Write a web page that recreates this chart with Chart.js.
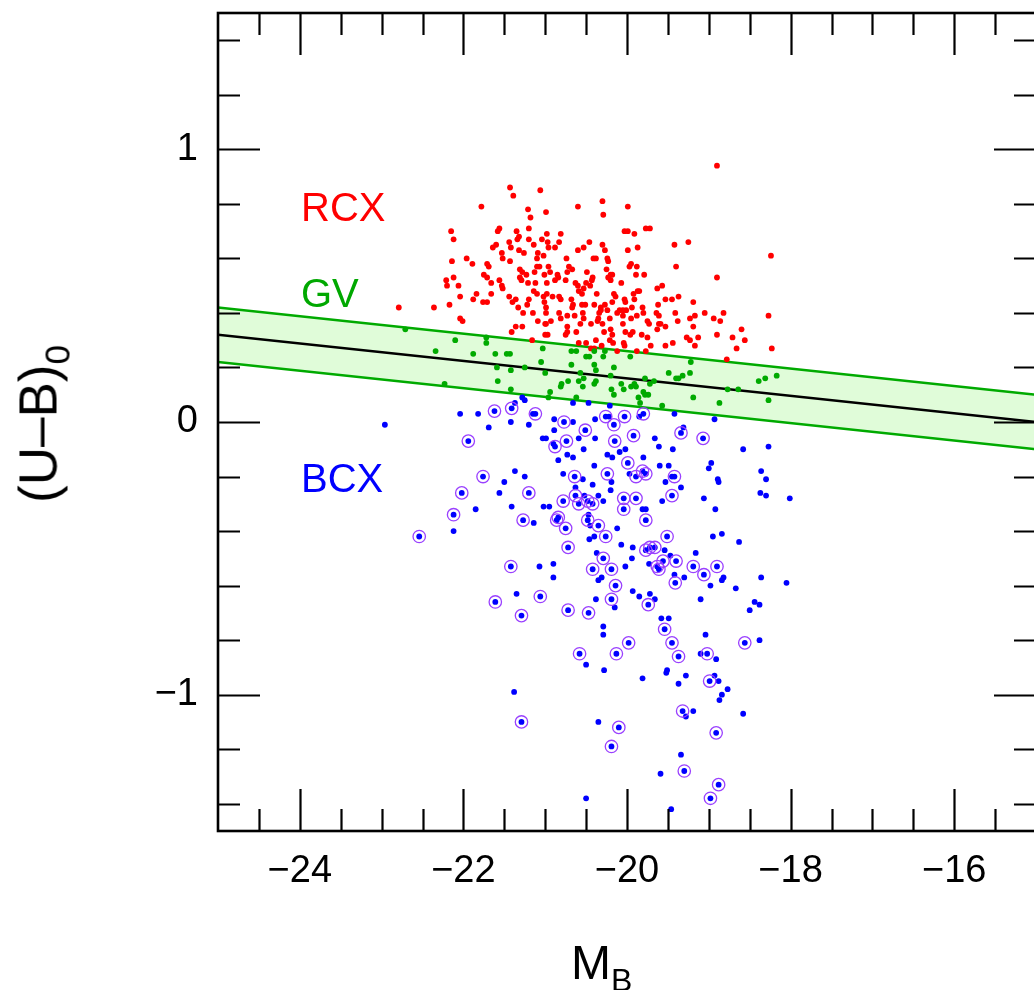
<!DOCTYPE html>
<html><head><meta charset="utf-8">
<script src="https://cdn.jsdelivr.net/npm/chart.js@4.4.1/dist/chart.umd.min.js"></script>
<style>
html,body{margin:0;padding:0;background:#fff;overflow:hidden;width:1034px;height:990px;}
#wrap{position:relative;width:1040px;height:990px;}
canvas{position:absolute;left:0;top:0;}
.lbl{position:absolute;font-family:"Liberation Sans",Arial,Helvetica,sans-serif;white-space:nowrap;line-height:1;}
</style></head><body>
<div id="wrap">
<canvas id="c" width="1040" height="990"></canvas>
<div class="lbl" style="left:301px;top:187px;font-size:40px;color:#ff0000;">RCX</div>
<div class="lbl" style="left:301px;top:273px;font-size:40px;color:#00a800;">GV</div>
<div class="lbl" style="left:301px;top:458px;font-size:40px;color:#0000ff;">BCX</div>
<div class="lbl" style="left:571px;top:939px;font-size:48px;color:#000;">M<span style="font-size:32px;position:relative;top:12px;">B</span></div>
<div class="lbl" style="left:38px;top:424px;font-size:53px;color:#000;transform:translate(-50%,-50%) rotate(-90deg);">(U–B)<span style="font-size:35px;position:relative;top:13px;">0</span></div>
</div>
<script>
// ---- axis ticks ----
const xTicks = [-24, -22, -20, -18, -16];
const xMinor = [-24.5, -23.5, -23, -22.5, -21.5, -21, -20.5, -19.5, -19, -18.5, -17.5, -17, -16.5, -15.5];
const yTicks = [-1, 0, 1];
const yMinor = [-1.4, -1.2, -0.8, -0.6, -0.4, -0.2, 0.2, 0.4, 0.6, 0.8, 1.2, 1.4];

// ---- green valley band ----
const bandX = [-25, -15];
const bandMid = [0.32, 0.00];
const bandHi = [0.42, 0.10];
const bandLo = [0.22, -0.10];

// ---- RCX (red) ----
const redX = [-21.43,-21.06,-21.39,-21.78,-20.60,-20.30,-19.99,-21.21,-20.99,-20.29,
-21.18,-22.15,-22.12,-21.56,-21.58,-21.35,-21.20,-20.98,-20.81,-20.03,
-19.99,-19.91,-19.77,-19.72,-21.32,-21.34,-21.04,-21.44,-21.20,-20.97,
-20.83,-20.46,-20.30,-20.27,-19.42,-19.25,-21.60,-21.64,-21.42,-21.14,
-20.96,-20.88,-20.60,-20.53,-19.99,-19.87,-21.53,-21.32,-21.26,-21.09,
-21.02,-20.74,-20.41,-20.38,-20.24,-20.23,-22.14,-21.96,-21.89,-21.71,
-21.69,-21.52,-21.43,-21.10,-19.95,-19.97,-19.88,-19.40,-21.31,-21.28,
-21.10,-21.07,-20.96,-20.71,-20.67,-20.49,-20.25,-19.89,-19.79,-20.20,
-20.23,-21.75,-21.71,-21.56,-21.31,-21.23,-21.13,-21.01,-20.94,-20.85,
-20.73,-20.75,-20.42,-20.43,-20.18,-22.21,-22.12,-22.20,-22.06,-21.66,
-21.53,-21.52,-21.29,-21.21,-21.12,-20.98,-20.88,-20.84,-20.63,-20.60,
-20.50,-20.45,-20.20,-20.07,-19.87,-19.85,-19.63,-19.57,-18.90,-22.04,
-21.88,-21.84,-21.66,-21.44,-21.36,-21.14,-21.10,-21.02,-20.98,-20.91,
-20.83,-20.81,-20.59,-20.55,-20.53,-20.37,-20.16,-20.14,-20.03,-20.02,
-19.92,-19.91,-22.17,-21.76,-21.71,-21.40,-21.20,-21.22,-21.01,-20.99,
-20.68,-20.66,-20.67,-20.55,-20.51,-20.40,-20.32,-20.27,-20.18,-20.32,
-20.34,-20.24,-20.09,-20.05,-20.01,-19.94,-19.81,-19.62,-19.53,-19.45,
-19.37,-19.19,-21.33,-21.27,-21.15,-20.99,-20.83,-20.81,-20.73,-20.64,
-20.54,-20.53,-20.35,-20.21,-20.12,-20.05,-19.95,-19.88,-19.80,-19.64,
-19.61,-19.41,-19.23,-19.17,-19.05,-18.94,-18.86,-18.82,-22.04,-22.01,
-21.09,-21.00,-20.93,-20.99,-20.73,-20.57,-20.44,-20.36,-20.30,-20.05,
-19.75,-19.73,-19.61,-19.59,-19.53,-19.38,-19.19,-21.36,-21.28,-21.41,
-21.00,-20.97,-20.75,-20.73,-20.62,-20.28,-20.20,-20.18,-19.96,-19.93,
-20.02,-19.82,-19.75,-19.63,-19.27,-19.23,-19.13,-18.90,-18.71,-18.66,
-21.16,-20.59,-20.50,-20.38,-20.31,-20.21,-20.17,-20.12,-20.04,-20.03,
-19.88,-19.77,-19.71,-19.53,-19.44,-19.17,-20.44,-20.40,
-22.79,-22.36,-18.24,-18.27,-18.23,-18.78,-18.60,-18.56,-18.90];
const redY = [0.86,0.85,0.83,0.79,0.79,0.81,0.79,0.78,0.77,0.76,
0.75,0.70,0.67,0.71,0.70,0.70,0.71,0.69,0.69,0.70,
0.70,0.69,0.71,0.71,0.68,0.67,0.67,0.66,0.67,0.66,
0.66,0.66,0.65,0.63,0.65,0.66,0.65,0.64,0.64,0.65,
0.64,0.64,0.63,0.64,0.63,0.64,0.62,0.63,0.62,0.62,
0.61,0.60,0.60,0.60,0.60,0.59,0.59,0.60,0.58,0.58,
0.57,0.60,0.59,0.60,0.58,0.57,0.57,0.57,0.56,0.55,
0.57,0.57,0.57,0.57,0.56,0.55,0.56,0.54,0.54,0.54,
0.53,0.54,0.53,0.52,0.53,0.54,0.55,0.54,0.55,0.54,
0.55,0.52,0.53,0.52,0.54,0.52,0.53,0.50,0.50,0.51,
0.50,0.49,0.52,0.51,0.51,0.51,0.52,0.53,0.51,0.50,
0.51,0.50,0.52,0.51,0.48,0.48,0.49,0.50,0.53,0.46,
0.45,0.47,0.47,0.46,0.45,0.48,0.47,0.46,0.47,0.46,
0.46,0.45,0.48,0.47,0.49,0.47,0.47,0.46,0.45,0.44,
0.47,0.45,0.43,0.44,0.44,0.44,0.45,0.43,0.44,0.42,
0.45,0.43,0.42,0.43,0.43,0.43,0.42,0.43,0.44,0.41,
0.40,0.41,0.41,0.41,0.41,0.42,0.42,0.43,0.45,0.45,
0.46,0.44,0.42,0.40,0.40,0.40,0.40,0.38,0.39,0.39,
0.40,0.38,0.38,0.38,0.40,0.39,0.38,0.39,0.40,0.40,
0.39,0.40,0.38,0.39,0.40,0.38,0.37,0.40,0.38,0.37,
0.37,0.36,0.37,0.36,0.35,0.36,0.36,0.37,0.36,0.36,
0.37,0.36,0.36,0.36,0.35,0.37,0.35,0.35,0.35,0.33,
0.32,0.32,0.32,0.33,0.33,0.33,0.34,0.32,0.32,0.33,
0.33,0.32,0.31,0.34,0.31,0.30,0.31,0.32,0.31,0.27,
0.30,0.29,0.29,0.30,0.28,0.30,0.29,0.26,0.29,0.28,
0.26,0.26,0.28,0.28,0.29,0.28,0.27,0.27,
0.42,0.42,0.61,0.39,0.27,0.23,0.34,0.30,0.94];

// ---- GV (green) ----
const greenX = [-21.72,-21.61,-21.47,-21.43,-21.03,-20.68,-20.62,-21.05,-21.59,-21.42,
-21.25,-21.00,-20.68,-20.57,-20.40,-20.38,-20.16,-19.96,-20.29,-20.46,
-20.50,-20.40,-20.27,-21.58,-21.42,-20.94,-20.96,-20.72,-20.59,-20.53,
-20.81,-20.80,-20.54,-20.40,-20.38,-20.20,-20.07,-20.04,-20.19,-20.16,
-19.95,-19.91,-19.89,-19.78,-19.72,-19.67,-19.86,-19.80,-19.78,-19.74,
-19.84,-19.57,-19.49,-19.40,-19.37,-19.32,-19.23,-19.22,-19.19,-18.87,
-18.77,-18.64,-18.39,-18.31,-18.17,-18.27,-20.62,-22.71,-22.34,-22.23,
-22.10,-21.88,-21.72];
const greenY = [0.29,0.25,0.25,0.25,0.27,0.26,0.26,0.22,0.20,0.19,
0.20,0.18,0.21,0.18,0.21,0.19,0.20,0.24,0.24,0.24,
0.24,0.26,0.26,0.15,0.12,0.11,0.09,0.15,0.15,0.16,
0.13,0.14,0.13,0.14,0.15,0.17,0.14,0.12,0.12,0.10,
0.13,0.14,0.13,0.16,0.14,0.15,0.09,0.11,0.10,0.10,
0.07,0.06,0.18,0.16,0.16,0.17,0.18,0.22,0.09,0.07,
0.12,0.12,0.15,0.16,0.17,0.08,0.09,0.34,0.26,0.14,
0.30,0.25,0.31];

// ---- BCX (blue); blueRing = 1 where the point is circled ----
const blueX = [-22.96,-22.04,-21.82,-21.69,-21.62,-21.41,-21.28,-21.25,-21.37,-21.42,
-21.20,-21.15,-21.12,-20.89,-20.77,-20.66,-20.89,-21.03,-20.99,-20.90,
-20.88,-20.74,-20.59,-20.51,-20.39,-20.53,-20.84,-20.73,-20.66,-20.39,
-20.26,-20.22,-20.16,-20.03,-19.85,-19.80,-19.42,-19.66,-19.61,-19.44,
-19.34,-19.31,-19.07,-18.93,-18.58,-18.27,-19.92,-20.15,-20.02,-20.09,
-20.24,-20.18,-19.80,-19.99,-21.94,-21.76,-21.50,-21.37,-21.25,-21.56,
-22.02,-21.85,-22.12,-22.54,-22.12,-21.41,-21.20,-21.27,-21.14,-21.02,
-20.95,-20.78,-20.64,-20.54,-20.42,-20.24,-20.19,-20.20,-20.40,-19.81,
-19.77,-19.89,-19.97,-19.60,-19.49,-19.42,-19.45,-19.53,-19.34,-19.45,
-19.57,-19.06,-18.97,-19.00,-18.89,-18.88,-18.36,-18.30,-18.37,-18.30,
-18.01,-20.78,-20.63,-20.63,-20.59,-20.52,-20.48,-20.42,-20.35,-20.29,
-20.04,-19.89,-20.04,-19.81,-19.77,-19.77,-20.84,-20.86,-20.75,-20.48,
-20.47,-20.45,-20.35,-20.26,-20.12,-20.40,-20.46,-20.72,-20.37,-20.29,
-20.42,-20.19,-20.35,-20.31,-20.14,-20.07,-19.93,-19.94,-20.02,-19.77,
-19.72,-19.66,-19.54,-19.47,-19.56,-19.63,-19.61,-19.40,-19.73,-19.42,
-19.41,-19.30,-19.51,-19.16,-19.19,-19.06,-18.90,-18.95,-18.84,-18.63,
-18.92,-18.36,-18.05,-18.67,-18.98,-18.84,-18.82,-21.42,-21.07,-20.90,-20.90,-20.66,-20.47,-20.21,
-21.61,-21.35,-21.06,-21.29,-20.72,-20.47,-20.38,-20.19,-20.15,-19.93,
-19.85,-19.72,-19.66,-19.74,-19.10,-18.44,-18.38,-18.50,-19.58,-19.49,
-19.54,-19.45,-19.37,-20.29,-20.29,-19.98,-20.58,-20.13,-20.50,-20.28,
-19.81,-19.51,-19.52,-19.28,-19.37,-19.04,-19.10,-19.02,-18.91,-18.93,
-18.99,-18.88,-18.77,-18.84,-18.87,-18.56,-18.38,-18.58,-19.32,-19.19,
-19.28,-21.38,-21.29,-20.35,-20.10,-20.19,-19.34,-19.30,-19.59,-18.91,
-18.88,-18.98,-20.50,-19.46];
const blueY = [-0.01,0.03,0.03,-0.02,0.04,0.05,0.09,0.08,0.07,0.00,
-0.01,0.03,0.03,0.01,0.00,0.00,-0.03,-0.06,-0.06,-0.08,
-0.09,-0.07,-0.06,-0.03,-0.06,-0.10,-0.14,-0.12,-0.13,0.01,
0.02,0.02,-0.01,0.02,0.02,0.03,0.03,-0.06,-0.09,-0.10,
-0.04,-0.02,-0.06,0.01,-0.10,-0.09,-0.05,-0.07,-0.10,-0.11,
-0.12,-0.13,-0.13,-0.15,-0.07,-0.20,-0.22,-0.18,-0.20,-0.26,
-0.26,-0.32,-0.34,-0.42,-0.40,-0.31,-0.26,-0.36,-0.37,-0.31,
-0.31,-0.19,-0.20,-0.21,-0.23,-0.19,-0.22,-0.25,-0.16,-0.18,
-0.19,-0.20,-0.19,-0.16,-0.16,-0.20,-0.20,-0.22,-0.24,-0.27,
-0.29,-0.28,-0.15,-0.17,-0.21,-0.22,-0.18,-0.21,-0.26,-0.27,
-0.28,-0.29,-0.24,-0.27,-0.30,-0.27,-0.29,-0.30,-0.27,-0.29,
-0.28,-0.28,-0.32,-0.32,-0.32,-0.36,-0.35,-0.36,-0.39,-0.36,
-0.34,-0.38,-0.38,-0.42,-0.39,-0.42,-0.43,-0.46,-0.48,-0.50,
-0.54,-0.54,-0.58,-0.57,-0.60,-0.45,-0.46,-0.50,-0.53,-0.47,
-0.46,-0.46,-0.47,-0.49,-0.51,-0.53,-0.54,-0.51,-0.52,-0.56,
-0.59,-0.57,-0.42,-0.48,-0.53,-0.56,-0.53,-0.42,-0.41,-0.44,
-0.32,-0.57,-0.59,-0.61,-0.60,-0.58,-0.57,-0.53,-0.53,-0.52,-0.57,0.07,0.07,0.06,
-0.66,-0.63,-0.64,-0.71,-0.69,-0.70,-0.65,-0.65,-0.68,-0.62,
-0.64,-0.63,-0.65,-0.67,-0.65,-0.66,-0.67,-0.69,-0.72,-0.72,
-0.76,-0.81,-0.86,-0.75,-0.78,-0.81,-0.85,-0.85,-0.89,-0.91,
-0.94,-0.91,-0.92,-0.93,-0.96,-0.78,-0.85,-0.85,-0.87,-0.93,
-0.95,-0.95,-0.98,-1.00,-1.02,-0.81,-0.80,-1.07,-1.06,-1.06,
-1.08,-0.99,-1.10,-1.10,-1.12,-1.19,-1.22,-1.28,-1.29,-1.14,
-1.33,-1.38,-1.38,-1.42];
const blueRing = [0,0,0,0,1,1,0,0,0,0,
0,0,1,0,1,0,0,0,0,0,
1,1,0,1,0,0,0,0,0,0,
1,0,1,1,0,1,0,0,0,0,
1,0,1,0,0,0,1,1,0,0,
0,0,0,1,1,1,0,0,0,0,
1,0,1,1,0,0,1,1,0,0,
0,0,1,0,0,1,0,0,0,1,
1,1,0,0,0,1,0,0,0,1,
0,0,0,0,0,0,0,0,0,0,
0,1,0,1,1,0,1,1,0,0,
1,1,1,0,0,1,1,1,1,1,
0,0,1,1,0,0,0,1,0,1,
1,1,0,0,1,0,0,0,0,1,
1,1,0,0,1,1,1,1,0,0,
1,0,1,0,1,1,1,0,0,0,
0,0,0,0,0,0,0,1,0,0,0,0,0,0,
1,0,1,1,1,1,0,1,0,0,
0,0,0,1,0,0,0,0,0,0,
1,1,1,0,0,1,1,1,0,0,
0,0,0,0,0,0,0,1,0,0,
1,0,0,0,0,1,0,0,1,0,
0,0,1,0,1,1,0,1,0,1,
1,1,0,0];

const pts = (xs, ys) => xs.map((x, i) => ({x, y: ys[i]}));
const ringPts = pts(blueX, blueY).filter((p, i) => blueRing[i] === 1);
const FONT = '"Liberation Sans", Arial, Helvetica, sans-serif';
const fmt = v => (v < 0 ? '\u2212' + Math.abs(v) : String(v));
const noPad = s => { s.paddingTop = 0; s.paddingBottom = 0; s.paddingLeft = 0; s.paddingRight = 0; };

const framePlugin = {
  id: 'frame',
  afterDraw(chart) {
    const {ctx, chartArea: a, scales: {x, y}} = chart;
    ctx.save();
    ctx.strokeStyle = '#000';
    ctx.lineWidth = 2.2;
    ctx.lineCap = 'butt';
    ctx.beginPath();
    const xt = (vals, len) => vals.forEach(v => {
      const p = Math.round(x.getPixelForValue(v)) + 0.5;
      ctx.moveTo(p, a.bottom); ctx.lineTo(p, a.bottom - len);
      ctx.moveTo(p, a.top); ctx.lineTo(p, a.top + len);
    });
    const yt = (vals, len) => vals.forEach(v => {
      const p = Math.round(y.getPixelForValue(v)) + 0.5;
      ctx.moveTo(a.left, p); ctx.lineTo(a.left + len, p);
      ctx.moveTo(a.right, p); ctx.lineTo(a.right - len, p);
    });
    xt(xTicks, 42); xt(xMinor, 22);
    yt(yTicks, 42); yt(yMinor, 22);
    ctx.stroke();
    ctx.lineWidth = 2.6;
    ctx.strokeRect(a.left, a.top, a.right - a.left, a.bottom - a.top);
    ctx.restore();
  }
};

new Chart(document.getElementById('c'), {
  type: 'line',
  data: {
    datasets: [
      {data: pts(bandX, bandHi), borderColor: '#00aa00', borderWidth: 2.4, pointRadius: 0,
       fill: '+1', backgroundColor: '#e0fcd9', order: 10},
      {data: pts(bandX, bandLo), borderColor: '#00aa00', borderWidth: 2.4, pointRadius: 0,
       fill: false, order: 9},
      {data: pts(bandX, bandMid), borderColor: '#000000', borderWidth: 2.4, pointRadius: 0,
       fill: false, order: 8},
      {data: pts(redX, redY), showLine: false, pointRadius: 2.9, pointBorderWidth: 0,
       pointBackgroundColor: '#ff0000', order: 4},
      {data: pts(greenX, greenY), showLine: false, pointRadius: 2.9, pointBorderWidth: 0,
       pointBackgroundColor: '#00aa00', order: 3},
      {data: pts(blueX, blueY), showLine: false, pointRadius: 2.9, pointBorderWidth: 0,
       pointBackgroundColor: '#0000ff', order: 2},
      {data: ringPts, showLine: false, pointRadius: 6.2, pointBorderWidth: 1.3,
       pointBorderColor: '#9a40ff', pointBackgroundColor: 'rgba(0,0,0,0)', order: 1}
    ]
  },
  options: {
    responsive: false,
    animation: false,
    events: [],
    layout: {autoPadding: false, padding: {left: 0, top: 13, right: 4, bottom: 0}},
    plugins: {legend: {display: false}, tooltip: {enabled: false}},
    scales: {
      x: {
        type: 'linear', min: -25, max: -15,
        afterBuildTicks: s => { s.ticks = xTicks.map(v => ({value: v})); },
        afterFit: s => { s.height = 159; noPad(s); },
        grid: {display: false, drawTicks: false},
        border: {display: false},
        ticks: {font: {family: FONT, size: 38}, color: '#000', padding: 18,
                maxRotation: 0, autoSkip: false, callback: v => fmt(v)}
      },
      y: {
        type: 'linear', min: -1.5, max: 1.5,
        afterBuildTicks: s => { s.ticks = yTicks.map(v => ({value: v})); },
        afterFit: s => { s.width = 218; noPad(s); },
        grid: {display: false, drawTicks: false},
        border: {display: false},
        ticks: {font: {family: FONT, size: 38}, color: '#000', padding: 20,
                autoSkip: false, callback: v => fmt(v)}
      }
    }
  },
  plugins: [framePlugin]
});
</script>
</body></html>
